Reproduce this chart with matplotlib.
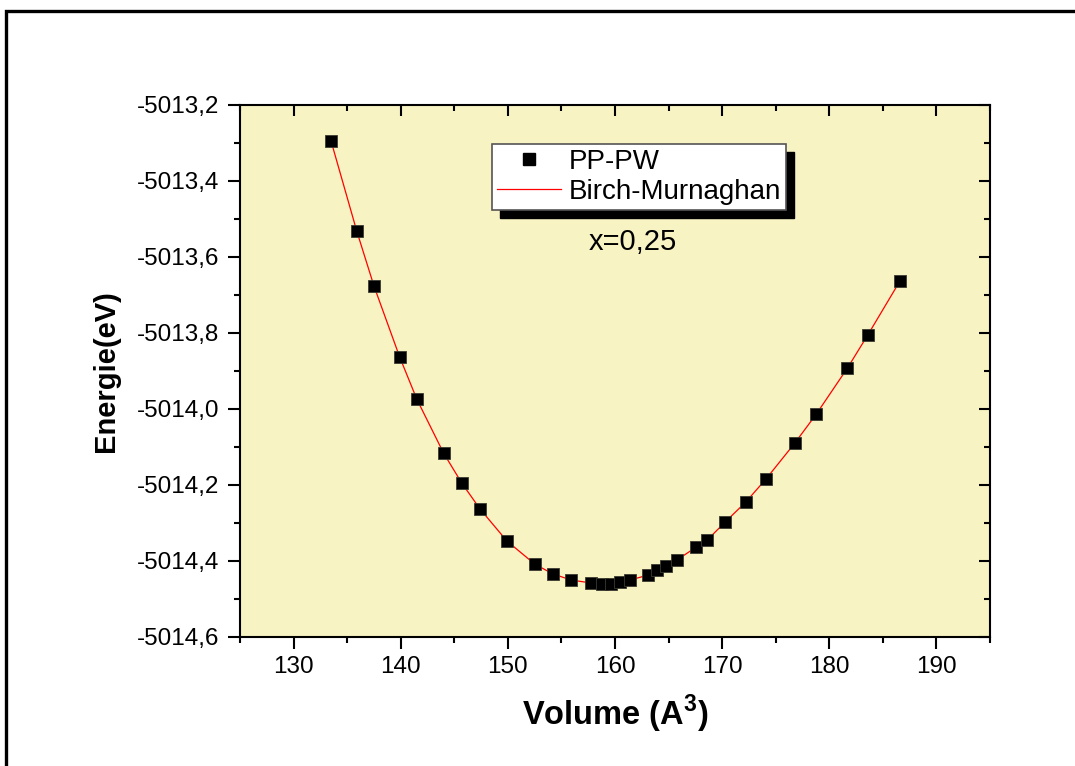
import matplotlib
matplotlib.use("Agg")
import matplotlib.pyplot as plt
from matplotlib.patches import Rectangle
from matplotlib.ticker import MultipleLocator, FuncFormatter
from matplotlib.lines import Line2D

plt.rcParams['font.family'] = ['Liberation Sans', 'DejaVu Sans']
plt.rcParams['mathtext.fontset'] = 'custom'
plt.rcParams['mathtext.rm'] = 'Liberation Sans:bold'

# Volume (A^3) et energie totale (eV)
volume = [133.5, 135.9, 137.5, 139.9, 141.5, 144.0, 145.7, 147.4, 149.9, 152.5,
          154.2, 155.9, 157.8, 158.8, 159.6, 160.5, 161.4, 163.1, 163.9, 164.8,
          165.8, 167.6, 168.6, 170.3, 172.2, 174.1, 176.8, 178.8, 181.7, 183.6,
          186.6]
energie = [-5013.295, -5013.532, -5013.676, -5013.863, -5013.974, -5014.116,
           -5014.195, -5014.263, -5014.347, -5014.408, -5014.434, -5014.450,
           -5014.458, -5014.461, -5014.461, -5014.455, -5014.450, -5014.437,
           -5014.424, -5014.413, -5014.397, -5014.363, -5014.345, -5014.297,
           -5014.245, -5014.184, -5014.089, -5014.013, -5013.892, -5013.805,
           -5013.663]

fig = plt.figure(figsize=(10.75, 7.66), dpi=100)
ax = fig.add_axes([240/1075, 129/766, 750/1075, 532/766])
ax.set_facecolor('#F7F3C3')

# cadre autour de la figure
fig.patches.append(Rectangle((6/1075, -0.2), 1.2, 1.2 - 11/766, transform=fig.transFigure,
                             fill=False, edgecolor='black', linewidth=2.4, clip_on=False))

ax.plot(volume, energie, color='red', linewidth=0.9, zorder=3)
ax.plot(volume, energie, linestyle='none', marker='s', markersize=8.8,
        color='black', markeredgecolor='#3a3a30', markeredgewidth=0.6, zorder=4)

ax.set_xlim(125, 195)
ax.set_ylim(-5014.6, -5013.2)
ax.xaxis.set_major_locator(MultipleLocator(10))
ax.xaxis.set_minor_locator(MultipleLocator(5))
ax.yaxis.set_major_locator(MultipleLocator(0.2))
ax.yaxis.set_minor_locator(MultipleLocator(0.1))
ax.yaxis.set_major_formatter(FuncFormatter(lambda v, p: f"{v:.1f}".replace('.', ',')))
ax.xaxis.set_major_formatter(FuncFormatter(lambda v, p: f"{v:.0f}"))

for s in ax.spines.values():
    s.set_linewidth(1.5)
ax.tick_params(which='both', direction='out', width=1.5, labelsize=17.5, pad=6.5,
               top=False, right=False)
ax.tick_params(axis='x', pad=5)
ax.tick_params(which='major', length=8.5)
ax.tick_params(which='minor', length=4.5)

# graduations internes en haut et a droite
ax2 = ax.secondary_xaxis('top')
ax2.xaxis.set_major_locator(MultipleLocator(10))
ax2.xaxis.set_minor_locator(MultipleLocator(5))
ax2.tick_params(which='both', direction='in', width=1.5, labeltop=False)
ax2.tick_params(which='major', length=8)
ax2.tick_params(which='minor', length=4)
ay2 = ax.secondary_yaxis('right')
ay2.yaxis.set_major_locator(MultipleLocator(0.2))
ay2.yaxis.set_minor_locator(MultipleLocator(0.1))
ay2.tick_params(which='both', direction='in', width=1.5, labelright=False)
ay2.tick_params(which='major', length=8)
ay2.tick_params(which='minor', length=4)
for a in (ax2, ay2):
    for s in a.spines.values():
        s.set_visible(False)

ax.set_xlabel(r'Volume (A$^{3}$)', fontsize=23.5, fontweight='bold')
ax.set_ylabel('Energie(eV)', fontsize=21, fontweight='bold')
ax.xaxis.set_label_coords(0.5, -0.105)
ax.yaxis.set_label_coords(-0.16, 0.5)

handles = [Line2D([], [], linestyle='none', marker='s', markersize=8.8, color='black'),
           Line2D([], [], color='red', linewidth=0.9)]
leg = ax.legend(handles, ['PP-PW', 'Birch-Murnaghan'], loc='upper left',
                bbox_to_anchor=(0.336, 0.9267), borderaxespad=0, fontsize=20,
                handlelength=2.3, handletextpad=0.3, labelspacing=0.15,
                borderpad=0.17, fancybox=False, framealpha=1)
leg.get_frame().set_edgecolor('#555555')
leg.get_frame().set_linewidth(1.2)
leg.set_zorder(6)

ax.text(0.524, 0.7425, 'x=0,25', transform=ax.transAxes, fontsize=21,
        ha='center', va='center')

# ombre noire sous la legende
fig.canvas.draw()
bb = leg.get_window_extent().transformed(ax.transAxes.inverted())
ax.add_patch(Rectangle((bb.x0 + 8/750, bb.y0 - 8/532), bb.width, bb.height,
                       transform=ax.transAxes, color='black', zorder=5.5))

fig.savefig('out.png', dpi=100)
